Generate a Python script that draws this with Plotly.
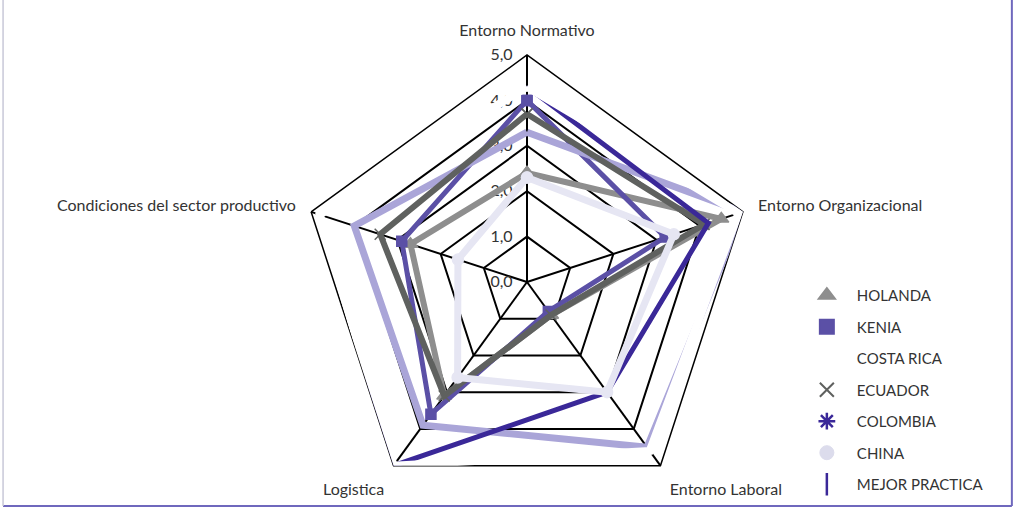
import plotly.graph_objects as go

categories = ["Entorno Normativo", "Entorno Organizacional", "Entorno Laboral",
              "Logistica", "Condiciones del sector productivo"]
radial_ticks = [0, 1, 2, 3, 4, 5]

holanda = [2.4, 4.5, 0.9, 3.1, 2.7]
kenia = [4.0, 3.2, 0.8, 3.6, 2.9]
costa_rica = [3.3, 5.0, 4.5, 3.9, 4.0]
ecuador = [3.7, 4.1, 0.9, 3.1, 3.4]
colombia = [4.3, 4.2, 3.0, 5.0, 4.8]
china = [2.3, 3.4, 3.0, 2.6, 1.6]
mejor_practica = [4.3, 4.9, 4.6, 5.0, 4.8]

series_names = ["HOLANDA", "KENIA", "COSTA RICA", "ECUADOR", "COLOMBIA", "CHINA", "MEJOR PRACTICA"]
series_values = [holanda, kenia, costa_rica, ecuador, colombia, china, mejor_practica]

styles = {
    "HOLANDA": dict(line="#8e8e8e", width=6, symbol="triangle-up", mcolor="#8e8e8e", msize=13, plot_marker=True),
    "KENIA": dict(line="#5b50a6", width=5, symbol="square", mcolor="#5b50a6", msize=10, plot_marker=True),
    "COSTA RICA": dict(line="#aaa5d8", width=7, symbol="circle", mcolor="#ffffff", msize=1, plot_marker=False),
    "ECUADOR": dict(line="#5f615f", width=6, symbol="x-thin-open", mcolor="#5f615f", msize=11, plot_marker=True),
    "COLOMBIA": dict(line="#3a2898", width=5, symbol="asterisk-open", mcolor="#3a2898", msize=6, plot_marker=False),
    "CHINA": dict(line="#e6e6f3", width=7, symbol="circle", mcolor="#e6e6f3", msize=11, plot_marker=True),
    "MEJOR PRACTICA": dict(line="#ffffff", width=8, symbol="line-ns-open", mcolor="#3a2898", msize=5, plot_marker=False),
}

theta = categories + [categories[0]]
fig = go.Figure()

for name, vals in zip(series_names, series_values):
    st = styles[name]
    mode = "lines+markers" if st["plot_marker"] else "lines"
    marker = dict(symbol=st["symbol"], size=st["msize"], color=st["mcolor"],
                  line=dict(color=st["mcolor"], width=1.5))
    fig.add_trace(go.Scatterpolar(
        r=vals + [vals[0]], theta=theta, mode=mode, name=name,
        line=dict(color=st["line"], width=st["width"]),
        marker=marker, showlegend=False, hoverinfo="skip"))

# legend entries (markers only, like the original legend)
for name in series_names:
    st = styles[name]
    leg_marker = dict(symbol=st["symbol"], size=14,
                      color=st["mcolor"], line=dict(color=st["mcolor"], width=2))
    if name == "MEJOR PRACTICA":
        leg_marker.update(size=16, line=dict(color=st["mcolor"], width=2.5))
    if name == "COLOMBIA":
        leg_marker.update(size=14, line=dict(color=st["mcolor"], width=2.5))
    if name == "CHINA":
        leg_marker["color"] = "#dcdcec"
        leg_marker["line"] = dict(color="#dcdcec", width=1)
    fig.add_trace(go.Scatterpolar(
        r=[None], theta=[None], mode="markers", name=name,
        marker=leg_marker, legendgroup=name, showlegend=True))

R_PX = 227
CX, CY = 527, 282
W, H = 1019, 509

fig.update_layout(
    width=W, height=H,
    margin=dict(l=0, r=0, t=0, b=0),
    paper_bgcolor="white",
    separators=",.",
    font=dict(family="Lato, 'Open Sans', sans-serif", color="#333333"),
    polar=dict(
        domain=dict(x=[(CX - R_PX) / W, (CX + R_PX) / W],
                    y=[(H - CY - R_PX) / H, (H - CY + R_PX) / H]),
        gridshape="linear",
        bgcolor="white",
        radialaxis=dict(range=[0, 5], tickvals=radial_ticks, tickformat=".1f",
                        angle=90, side="counterclockwise", tickangle=90, showline=True,
                        linecolor="black", linewidth=1.5, gridcolor="black",
                        gridwidth=1.5, ticks="outside", ticklen=8,
                        tickcolor="rgba(0,0,0,0)",
                        tickfont=dict(size=16, color="#333333"),
                        layer="below traces"),
        angularaxis=dict(direction="clockwise", rotation=90, linecolor="black",
                         linewidth=1.5, gridcolor="black", gridwidth=1.5,
                         ticks="outside", ticklen=12, tickcolor="rgba(0,0,0,0)",
                         tickfont=dict(size=16, color="#333333"), layer="below traces"),
    ),
    legend=dict(x=0.782, y=0.452, xanchor="left", yanchor="top",
                font=dict(size=15, color="#333333"), tracegroupgap=9, itemwidth=50,
                bgcolor="rgba(0,0,0,0)"),
    shapes=[
        dict(type="line", xref="paper", yref="paper", x0=0.993, x1=0.993, y0=0.006, y1=1.0,
             line=dict(color="#6f68bd", width=2)),
        dict(type="line", xref="paper", yref="paper", x0=0.003, x1=0.993, y0=0.006, y1=0.006,
             line=dict(color="#6f68bd", width=2)),
        dict(type="line", xref="paper", yref="paper", x0=0.003, x1=0.003, y0=0.006, y1=1.0,
             line=dict(color="#c8c8d8", width=1.5)),
    ],
)

fig.write_html("out.html", config={"displayModeBar": False},
               post_script="document.body.style.margin='0';document.body.style.overflow='hidden';")
